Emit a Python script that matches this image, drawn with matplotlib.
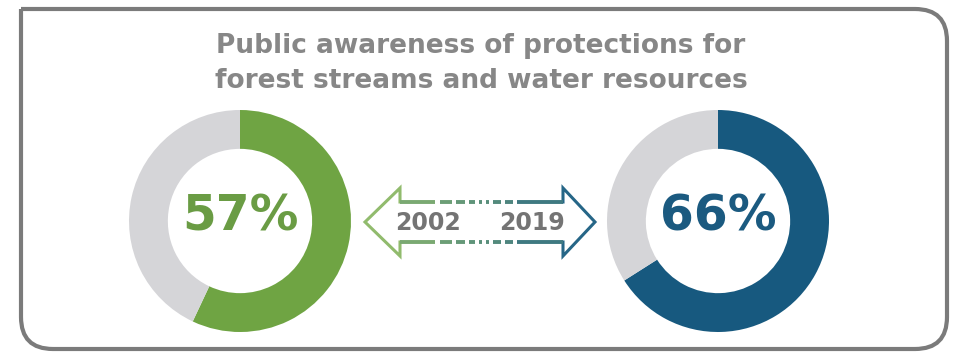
import matplotlib.pyplot as plt
import numpy as np
from matplotlib.path import Path
from matplotlib.patches import PathPatch
from matplotlib.collections import LineCollection

# данные
years = ["2002", "2019"]
aware_pct = [57, 66]
ring_colors = ["#6fa443", "#17597f"]
text_colors = ["#6a9c44", "#1b5a80"]
title_lines = ["Public awareness of protections for",
               "forest streams and water resources"]

W, H = 959, 353
fig = plt.figure(figsize=(W / 100, H / 100), dpi=100)

# основная ось в пикселях (y вниз)
ax = fig.add_axes([0, 0, 1, 1])
ax.set_xlim(0, W)
ax.set_ylim(H, 0)
ax.axis("off")

# рамка: верхний левый угол прямой, остальные скруглены
x0, x1, y0, y1, r = 21, 947, 9, 349, 32
verts = [(x0, y0), (x1 - r, y0), (x1, y0), (x1, y0 + r),
         (x1, y1 - r), (x1, y1), (x1 - r, y1),
         (x0 + r, y1), (x0, y1), (x0, y1 - r), (x0, y0)]
codes = [Path.MOVETO, Path.LINETO, Path.CURVE3, Path.CURVE3,
         Path.LINETO, Path.CURVE3, Path.CURVE3,
         Path.LINETO, Path.CURVE3, Path.CURVE3, Path.LINETO]
ax.add_patch(PathPatch(Path(verts, codes), fill=False, edgecolor="#7b7b7b", lw=3.0))

# заголовок
for i, line in enumerate(title_lines):
    ax.text(481, 46 + i * 35, line, ha="center", va="center", fontsize=19,
            color="#878787", fontweight="bold")

# кольцевые диаграммы
centers = [240, 718]
cy, R = 221, 111
for cx, pct, rc, tc in zip(centers, aware_pct, ring_colors, text_colors):
    pax = fig.add_axes([(cx - R) / W, (H - cy - R) / H, 2 * R / W, 2 * R / H])
    pax.pie([pct, 100 - pct], colors=[rc, "#d5d5d8"], startangle=90,
            counterclock=False, radius=1,
            wedgeprops=dict(width=0.35, edgecolor="none"))
    pax.set_xlim(-1, 1)
    pax.set_ylim(-1, 1)
    pax.set_aspect("equal")
    pax.axis("off")
    pax.text(0, 0.04, f"{pct}%", ha="center", va="center", fontsize=35,
             fontweight="bold", color=tc)

# двусторонняя стрелка с градиентом зелёный -> синий
c_left = np.array([0x93, 0xbd, 0x6c]) / 255
c_right = np.array([0x24, 0x64, 0x88]) / 255

def grad(x):
    t = np.clip((x - 365) / (595 - 365), 0, 1)
    return tuple(c_left * (1 - t) + c_right * t)

ay, top, bot, hy = 222, 202, 242, 34
lw = 2.2
# наконечники
ax.plot([400, 400, 365, 400, 400], [top, ay - hy, ay, ay + hy, bot],
        color=grad(370), lw=lw, solid_joinstyle="miter")
ax.plot([563, 563, 595, 563, 563], [top, ay - hy, ay, ay + hy, bot],
        color=grad(590), lw=lw, solid_joinstyle="miter")

# древко: сплошные концы и пунктир посередине
pieces = [(400, 435), (440, 452), (456, 465), (469, 475), (479, 482),
          (486, 489), (493, 501), (505, 513), (517, 563)]
segs, cols = [], []
for a, b in pieces:
    for yy in (top, bot):
        segs.append([(a, yy), (b, yy)])
        cols.append(grad((a + b) / 2))
ax.add_collection(LineCollection(segs, colors=cols, linewidths=lw + 0.6))

for x, yr in zip([428, 532], years):
    ax.text(x, ay + 1, yr, ha="center", va="center", fontsize=17,
            color="#747474", fontweight="bold")

fig.savefig("out.png", dpi=100, facecolor="white")
